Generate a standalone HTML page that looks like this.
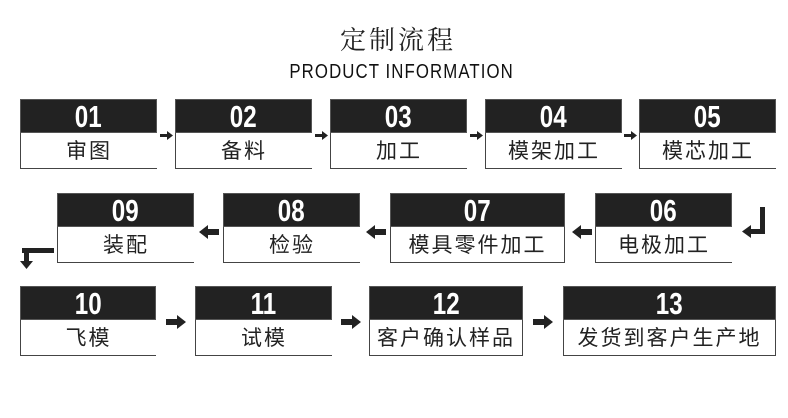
<!DOCTYPE html>
<html><head><meta charset="utf-8"><style>
body{margin:0;width:788px;height:418px;background:#fff;position:relative;overflow:hidden;font-family:"Liberation Sans","Noto Sans CJK SC",sans-serif}
.b{position:absolute}
.d{position:absolute;left:0;right:0;top:0;height:34px;background:#222;border:1px solid #555;box-sizing:border-box;color:#fff;text-align:center;font:bold 31px/33px "Liberation Sans Narrow","Liberation Sans",sans-serif}
.d span{display:inline-block;transform:scaleX(0.78)}
.w{position:absolute;left:0;right:0;top:34px;height:36px;background:#fff;border-left:1px solid #444;border-bottom:1px solid #444;box-sizing:border-box;text-align:center;font:21px/38px "Liberation Sans","Noto Sans CJK SC",sans-serif;color:#222;letter-spacing:2px}
.r{border-right:1px solid #444}
svg{position:absolute;left:0;top:0}
</style></head><body>
<div style="position:absolute;left:4px;width:788px;top:20px;text-align:center;font:26px 'Noto Serif CJK SC',serif;color:#222;letter-spacing:3px">定制流程</div>
<div style="position:absolute;left:258px;width:287px;top:61px;text-align:center;font:20px/22px 'Liberation Sans',sans-serif;color:#111;white-space:nowrap"><span style="display:inline-block;transform:scaleX(0.84);transform-origin:center;letter-spacing:1.3px">PRODUCT INFORMATION</span></div>

<div class="b" style="left:20px;top:99px;width:137px;height:70px"><div class="d"><span>01</span></div><div class="w">审图</div></div>
<div class="b" style="left:175px;top:99px;width:137px;height:70px"><div class="d"><span>02</span></div><div class="w">备料</div></div>
<div class="b" style="left:330px;top:99px;width:137px;height:70px"><div class="d"><span>03</span></div><div class="w">加工</div></div>
<div class="b" style="left:485px;top:99px;width:137px;height:70px"><div class="d"><span>04</span></div><div class="w">模架加工</div></div>
<div class="b" style="left:639px;top:99px;width:137px;height:70px"><div class="d"><span>05</span></div><div class="w">模芯加工</div></div>

<div class="b" style="left:57px;top:193px;width:137px;height:70px"><div class="d"><span>09</span></div><div class="w">装配</div></div>
<div class="b" style="left:223px;top:193px;width:137px;height:70px"><div class="d"><span>08</span></div><div class="w">检验</div></div>
<div class="b" style="left:390px;top:193px;width:175px;height:70px"><div class="d"><span>07</span></div><div class="w r">模具零件加工</div></div>
<div class="b" style="left:595px;top:193px;width:137px;height:70px"><div class="d"><span>06</span></div><div class="w">电极加工</div></div>

<div class="b" style="left:20px;top:286px;width:136px;height:70px"><div class="d"><span>10</span></div><div class="w">飞模</div></div>
<div class="b" style="left:195px;top:286px;width:137px;height:70px"><div class="d"><span>11</span></div><div class="w">试模</div></div>
<div class="b" style="left:369px;top:286px;width:154px;height:70px"><div class="d"><span>12</span></div><div class="w r">客户确认样品</div></div>
<div class="b" style="left:563px;top:286px;width:213px;height:70px"><div class="d"><span>13</span></div><div class="w r">发货到客户生产地</div></div>

<svg width="788" height="418" fill="#222">
<g><rect x="160" y="134" width="8" height="3"/><polygon points="167,131 173,135.5 167,140"/></g>
<g><rect x="315" y="134" width="8" height="3"/><polygon points="322,131 328,135.5 322,140"/></g>
<g><rect x="470" y="134" width="8" height="3"/><polygon points="477,131 483,135.5 477,140"/></g>
<g><rect x="624" y="134" width="8" height="3"/><polygon points="631,131 637,135.5 631,140"/></g>
<g><rect x="207" y="229" width="12" height="6"/><polygon points="208,225 199,232 208,239"/></g>
<g><rect x="374" y="229" width="12" height="6"/><polygon points="375,225 366,232 375,239"/></g>
<g><rect x="580" y="229" width="12" height="6"/><polygon points="581,225 572,232 581,239"/></g>
<g><rect x="760" y="207" width="5" height="27"/><rect x="750" y="229" width="15" height="5"/><polygon points="751,225 742,231.5 751,238"/></g>
<g><rect x="22" y="248" width="32" height="5"/><rect x="24" y="248" width="5" height="14"/><polygon points="20,261 33,261 26.5,269"/></g>
<g><rect x="166" y="319" width="12" height="6"/><polygon points="177,315 186,322 177,329"/></g>
<g><rect x="341" y="319" width="12" height="6"/><polygon points="352,315 361,322 352,329"/></g>
<g><rect x="533" y="319" width="12" height="6"/><polygon points="544,315 553,322 544,329"/></g>
</svg>
</body></html>
